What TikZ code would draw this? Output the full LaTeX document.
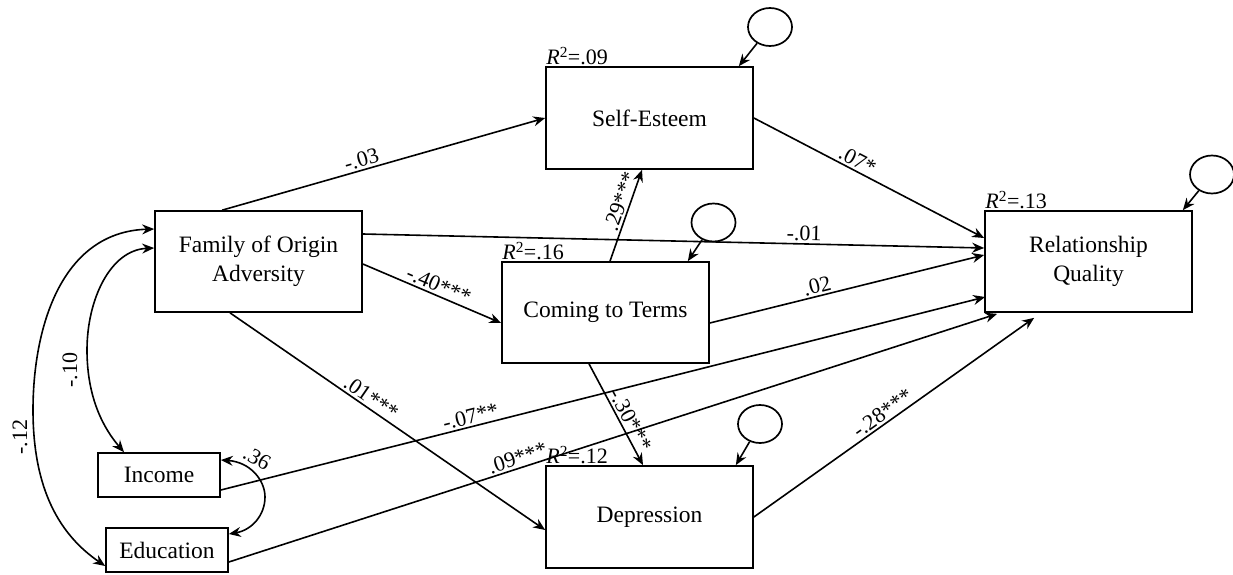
\documentclass[tikz,border=0pt]{standalone}
\usepackage{fontspec}
\setmainfont{Liberation Serif}
\usetikzlibrary{arrows.meta,calc,shapes.geometric}
\tikzset{
  box/.style={draw, line width=1.7pt, minimum width=207pt, minimum height=101pt, align=center, inner sep=0pt, font=\fontsize{23.5}{29}\selectfont},
  sbox/.style={draw, line width=1.7pt, minimum width=122pt, minimum height=44pt, inner sep=0pt, font=\fontsize{23.5}{29}\selectfont},
  err/.style={draw, ellipse, line width=1.7pt, minimum width=44pt, minimum height=38pt, inner sep=0pt},
  arr/.style={line width=1.6pt, -{Stealth[length=12pt,width=10pt,inset=4pt]}},
  dbl/.style={line width=1.6pt, {Stealth[length=12pt,width=10pt,inset=4pt]}-{Stealth[length=12pt,width=10pt,inset=4pt]}},
  lab/.style={font=\fontsize{22}{24}\selectfont, inner sep=2pt},
  rsq/.style={font=\fontsize{22}{24}\selectfont, inner sep=1pt, anchor=south west}
}
\begin{document}
\begin{tikzpicture}[x=1pt,y=-1pt]
\useasboundingbox (0,0) rectangle (1233,575);
% boxes
\node[box] (foa) at (258.5,261.5) {Family of Origin\\Adversity};
\node[box, minimum height=102pt] (se) at (649.5,118) {Self-Esteem};
\node[box] (ctt) at (605.5,312.5) {Coming to Terms};
\node[box] (rq) at (1088.5,261.5) {Relationship\\Quality};
\node[box, minimum height=102pt] (dep) at (649.5,517) {Depression};
\node[sbox] (inc) at (159,475) {Income};
\node[sbox] (edu) at (167,550) {Education};
% R squared
\node[rsq] (r1) at (se.north west) {\textit{R}\textsuperscript{2}=.09};
\node[rsq] (r2) at (ctt.north west) {\textit{R}\textsuperscript{2}=.16};
\node[rsq] (r3) at (rq.north west) {\textit{R}\textsuperscript{2}=.13};
\node[rsq] (r4) at (dep.north west) {\textit{R}\textsuperscript{2}=.12};
% error terms
\node[err] (ese) at (770,27) {};
\node[err] (ectt) at (713.5,222.5) {};
\node[err] (erq) at (1212,174.5) {};
\node[err] (edep) at (760,424) {};
\draw[arr] (ese) -- ($(se.north east)+(-15,0)$);
\draw[arr] (ectt) -- ($(ctt.north east)+(-22,0)$);
\draw[arr] (erq) -- ($(rq.north east)+(-10,0)$);
\draw[arr] (edep) -- ($(dep.north east)+(-18,0)$);
% paths
\draw[arr] ($(foa.north west)+(68,0)$) -- node[lab, sloped, above, pos=0.44] {-.03} (se.west);
\draw[arr] ($(foa.east)+(0,-27.5)$) -- node[lab, sloped, above, pos=0.71] {-.01} ($(rq.west)+(0,-13.5)$);
\draw[arr] ($(foa.east)+(0,2.5)$) -- node[lab, sloped, above, pos=0.52] {-.40***} ($(ctt.west)+(0,10.5)$);
\draw[arr] ($(foa.south)+(-28.5,0)$) -- node[lab, sloped, above, pos=0.43] {.01***} ($(dep.west)+(0,13)$);
\draw[arr] ($(ctt.north)+(4.5,0)$) -- node[lab, sloped, above, pos=0.62] {.29***} ($(se.south)+(-7.5,0)$);
\draw[arr] ($(ctt.east)+(0,10.5)$) -- node[lab, sloped, above, pos=0.4] {.02} ($(rq.west)+(0,-6.5)$);
\draw[arr] ($(ctt.south)+(-16.5,0)$) -- node[lab, sloped, above, pos=0.6] {-.30***} ($(dep.north)+(-6.5,0)$);
\draw[arr] (se.east) -- node[lab, sloped, above, pos=0.43] {.07*} ($(rq.west)+(0,-23.5)$);
\draw[arr] ($(inc.east)+(0,15)$) -- node[lab, sloped, above, pos=0.33] {-.07**} ($(rq.west)+(1,35.5)$);
\draw[arr] ($(edu.east)+(0,12)$) -- node[lab, sloped, above, pos=0.38] {.09***} ($(rq.south west)+(13,1)$);
\draw[arr] (dep.east) -- node[lab, sloped, above, pos=0.48] {-.28***} ($(rq.south west)+(50,5)$);
% correlations
\draw[dbl] ($(foa.west)+(0,-32.5)$) .. controls (60,232) and (33,330) .. (33,410) .. controls (33,490) and (60,535) .. ($(edu.west)+(0,16)$);
\draw[dbl] ($(foa.west)+(0,-13.5)$) .. controls (110,250) and (87,300) .. (87,350) .. controls (87,400) and (105,430) .. ($(inc.north)+(-35,0)$);
\draw[dbl] ($(inc.east)+(0,-15)$) .. controls (250,462) and (265,480) .. (265,497) .. controls (265,515) and (252,530) .. ($(edu.east)+(0,-16)$);
\node[lab, rotate=90] (l12) at (20,437) {-.12};
\node[lab, rotate=90] (l10) at (70,370) {-.10};
\node[lab, rotate=-30] (l36) at (257,458) {.36};
\end{tikzpicture}
\end{document}
